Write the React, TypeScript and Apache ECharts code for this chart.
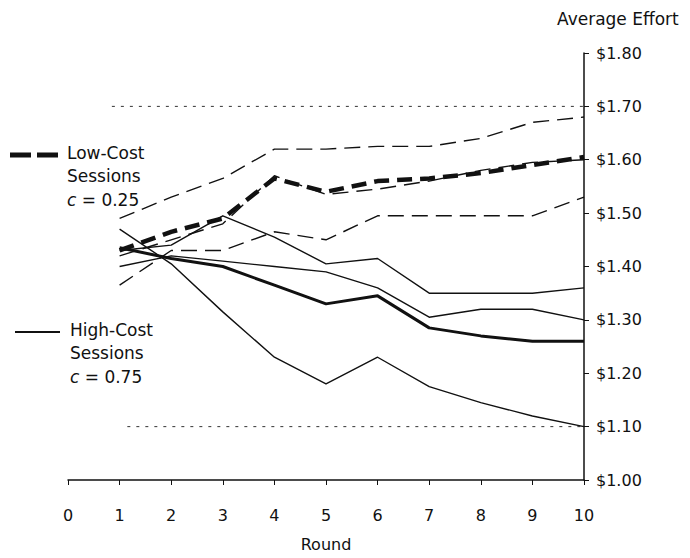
import React, { useEffect, useRef } from "react";
import * as echarts from "echarts";

// Rounds (x axis)
const rounds = [1, 2, 3, 4, 5, 6, 7, 8, 9, 10];

// Low-cost sessions (c = 0.25), three sessions + average (thick dashed)
const lowCostA = [1.49, 1.53, 1.565, 1.62, 1.62, 1.625, 1.625, 1.64, 1.67, 1.68];
const lowCostB = [1.42, 1.45, 1.48, 1.57, 1.535, 1.545, 1.56, 1.58, 1.595, 1.6];
const lowCostC = [1.365, 1.43, 1.43, 1.465, 1.45, 1.495, 1.495, 1.495, 1.495, 1.53];
const lowCostAvg = [1.43, 1.465, 1.49, 1.565, 1.54, 1.56, 1.565, 1.575, 1.59, 1.605];

// High-cost sessions (c = 0.75), three sessions + average (thick solid)
const highCostA = [1.43, 1.44, 1.495, 1.455, 1.405, 1.415, 1.35, 1.35, 1.35, 1.36];
const highCostB = [1.4, 1.42, 1.41, 1.4, 1.39, 1.36, 1.305, 1.32, 1.32, 1.3];
const highCostC = [1.47, 1.405, 1.315, 1.23, 1.18, 1.23, 1.175, 1.145, 1.12, 1.1];
const highCostAvg = [1.435, 1.415, 1.4, 1.365, 1.33, 1.345, 1.285, 1.27, 1.26, 1.26];

// Dotted reference levels
const upperRefLine = [[0.85, 1.7], [10, 1.7]];
const lowerRefLine = [[1.15, 1.1], [10, 1.1]];

// Axis settings
const xMin = 0;
const xMax = 10;
const yMin = 1.0;
const yMax = 1.8;
const yStep = 0.1;

const INK = "#111";
const FONT = "DejaVu Sans";

function lineSeries(name: string, values: number[], width: number, dash: any, z: number) {
  return {
    type: "line",
    name,
    data: rounds.map((r, i) => [r, values[i]]),
    symbol: "none",
    showSymbol: false,
    silent: true,
    z,
    lineStyle: { color: INK, width, type: dash, cap: "butt", join: "round" },
  };
}

export default function App() {
  const ref = useRef<HTMLDivElement>(null);

  useEffect(() => {
    if (!ref.current) return;
    const chart = echarts.init(ref.current, undefined, { renderer: "svg" });
    const thinDash = [16, 8];
    const thickDash = [15, 8];
    const dotted = [3, 6];
    const option: any = {
      animation: false,
      backgroundColor: "#fff",
      textStyle: { fontFamily: FONT, color: INK },
      grid: { left: 68, right: 106, top: 53, bottom: 78 },
      xAxis: {
        type: "value",
        min: xMin,
        max: xMax,
        interval: 1,
        name: "Round",
        nameLocation: "middle",
        nameGap: 56,
        nameTextStyle: { fontFamily: FONT, fontSize: 16, color: INK },
        axisLine: { onZero: false, lineStyle: { color: INK, width: 1.5 } },
        axisTick: { length: 5, lineStyle: { color: INK } },
        axisLabel: { margin: 27, fontFamily: FONT, fontSize: 16, color: INK },
        splitLine: { show: false },
      },
      yAxis: {
        type: "value",
        position: "right",
        min: yMin,
        max: yMax,
        interval: yStep,
        axisLine: { show: true, onZero: false, lineStyle: { color: INK, width: 1.5 } },
        axisTick: { show: true, length: 5, lineStyle: { color: INK } },
        axisLabel: {
          margin: 12,
          fontFamily: FONT,
          fontSize: 16,
          color: INK,
          formatter: (v: number) => "$" + v.toFixed(2),
        },
        splitLine: { show: false },
      },
      series: [
        {
          type: "line",
          name: "upper ref",
          data: upperRefLine,
          symbol: "none",
          silent: true,
          z: 1,
          lineStyle: { color: "#333", width: 1, type: dotted },
        },
        {
          type: "line",
          name: "lower ref",
          data: lowerRefLine,
          symbol: "none",
          silent: true,
          z: 1,
          lineStyle: { color: "#333", width: 1, type: dotted },
        },
        lineSeries("Low-Cost A", lowCostA, 1.4, thinDash, 2),
        lineSeries("Low-Cost B", lowCostB, 1.4, thinDash, 2),
        lineSeries("Low-Cost C", lowCostC, 1.4, thinDash, 2),
        lineSeries("High-Cost A", highCostA, 1.4, "solid", 2),
        lineSeries("High-Cost B", highCostB, 1.4, "solid", 2),
        lineSeries("High-Cost C", highCostC, 1.4, "solid", 2),
        lineSeries("High-Cost Average", highCostAvg, 3, "solid", 3),
        lineSeries("Low-Cost Average", lowCostAvg, 4.5, thickDash, 4),
      ],
      graphic: [
        {
          type: "text",
          left: 557,
          top: 10,
          style: { text: "Average Effort", font: `17px ${FONT}`, fill: INK },
        },
        {
          type: "line",
          shape: { x1: 10, y1: 155, x2: 60, y2: 155 },
          style: { stroke: INK, lineWidth: 5, lineDash: [21, 6] },
        },
        {
          type: "text",
          x: 67,
          y: 153,
          style: { text: "Low-Cost", font: `17px ${FONT}`, fill: INK, verticalAlign: "middle" },
        },
        {
          type: "text",
          x: 67,
          y: 176,
          style: { text: "Sessions", font: `17px ${FONT}`, fill: INK, verticalAlign: "middle" },
        },
        {
          type: "text",
          x: 67,
          y: 200,
          style: {
            text: "{i|c} = 0.25",
            font: `17px ${FONT}`,
            fill: INK,
            verticalAlign: "middle",
            rich: { i: { fontStyle: "italic", fontSize: 17, fontFamily: FONT, fill: INK } },
          },
        },
        {
          type: "line",
          shape: { x1: 15, y1: 332, x2: 60, y2: 332 },
          style: { stroke: INK, lineWidth: 2 },
        },
        {
          type: "text",
          x: 70,
          y: 330,
          style: { text: "High-Cost", font: `17px ${FONT}`, fill: INK, verticalAlign: "middle" },
        },
        {
          type: "text",
          x: 70,
          y: 353,
          style: { text: "Sessions", font: `17px ${FONT}`, fill: INK, verticalAlign: "middle" },
        },
        {
          type: "text",
          x: 70,
          y: 377,
          style: {
            text: "{i|c} = 0.75",
            font: `17px ${FONT}`,
            fill: INK,
            verticalAlign: "middle",
            rich: { i: { fontStyle: "italic", fontSize: 17, fontFamily: FONT, fill: INK } },
          },
        },
      ],
    };
    chart.setOption(option);
    return () => chart.dispose();
  }, []);

  return (
    <div
      ref={ref}
      style={{ position: "fixed", left: 0, top: 0, width: 690, height: 558, background: "#fff" }}
    />
  );
}
